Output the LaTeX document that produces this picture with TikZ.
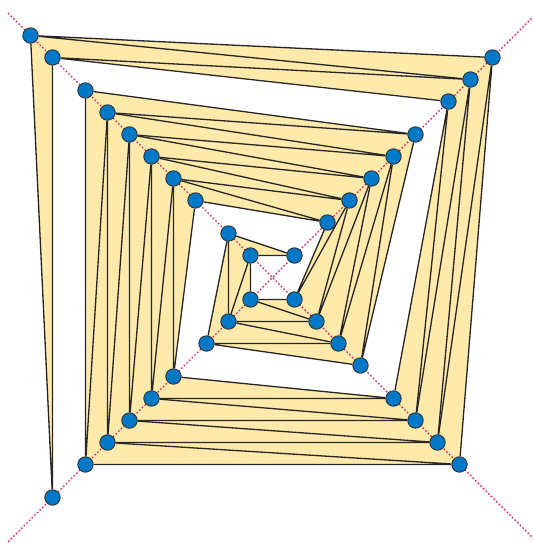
\documentclass[tikz,border=0pt]{standalone}
\usepackage{tikz}
\usetikzlibrary{backgrounds}
\definecolor{ptblue}{RGB}{0,120,200}
\definecolor{stripfill}{RGB}{255,234,172}
\definecolor{diagred}{RGB}{212,40,90}
\tikzset{
  pt/.style={circle,draw=black!80,fill=ptblue,line width=0.6pt,inner sep=0pt,minimum size=0.35cm},
  edge/.style={draw=black!85,line width=0.85pt},
  diag/.style={diagred,line width=0.9pt,dash pattern=on 1.1pt off 1.3pt}
}

\begin{document}
\begin{tikzpicture}[x=0.5cm,y=0.5cm]
    \useasboundingbox (-12.386,-12.068) rectangle (11.841,12.614);
    % points on the two diagonals, one list per corner
    \foreach \k/\dx/\dy/\ds in {0/-1/-1/{10}, 1/-1/1/{11,10}, 2/1/1/{10,9,8},
        3/1/-1/{8.5,7.5,6.5,5.5}, 4/-1/-1/{8.5,7.5,6.5,5.5,4.5},
        5/-1/1/{8.5,7.5,6.5,5.5,4.5,3.5}, 6/1/1/{6.5,5.5,4.5,3.5,2.5},
        7/1/-1/{4,3,2,1}, 8/-1/-1/{3,2,1}, 9/-1/1/{2,1}, 10/1/1/{1}}
      \foreach \d [count=\i from 0] in \ds
        \node[pt] (v\k-\i) at (\dx*\d,\dy*\d) {};
    \coordinate (nw) at (-12.02,12.02);
    \coordinate (se) at (11.93,-11.93);
    \coordinate (sw) at (-12.02,-12.02);
    \coordinate (ne) at (11.93,11.93);
    \begin{scope}[on background layer]
      \fill[stripfill] (v0-0.center) -- (v1-0.center) -- (v2-0.center) -- (v3-0.center)
        -- (v4-0.center) -- (v5-0.center) -- (v6-0.center) -- (v7-0.center) -- (v8-0.center)
        -- (v9-0.center) -- (v10-0.center) -- (v9-1.center) -- (v8-2.center) -- (v7-3.center)
        -- (v6-4.center) -- (v5-5.center) -- (v4-4.center) -- (v3-3.center) -- (v2-2.center)
        -- (v1-1.center) -- cycle;
      % growing strips
      \foreach \k in {0,...,4}
        \foreach \i in {0,...,\k} {
          \pgfmathtruncatemacro\kk{\k+1}
          \pgfmathtruncatemacro\ii{\i+1}
          \draw[edge] (v\k-\i) -- (v\kk-\i) (v\k-\i) -- (v\kk-\ii);
        }
      % shrinking strips
      \foreach \k in {5,...,9} {
        \pgfmathtruncatemacro\kk{\k+1}
        \pgfmathtruncatemacro\m{9-\k}
        \foreach \i in {0,...,\m} {
          \pgfmathtruncatemacro\ii{\i+1}
          \draw[edge] (v\kk-\i) -- (v\k-\i) (v\kk-\i) -- (v\k-\ii);
        }
      }
      \draw[diag] (nw) -- (se);
      \draw[diag] (sw) -- (ne);
    \end{scope}
  \end{tikzpicture}
\end{document}
